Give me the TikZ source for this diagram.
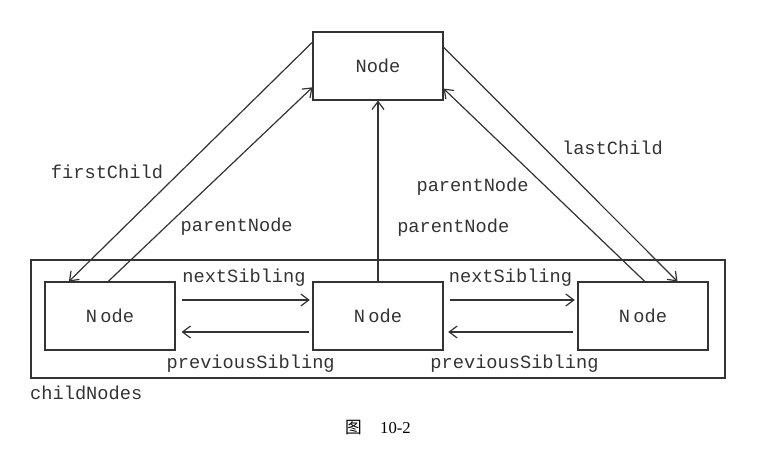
\documentclass[tikz,border=0pt]{standalone}
\usepackage{fontspec}
\setmainfont{Liberation Serif}
\setmonofont{Liberation Mono}
\newfontfamily\cjk{Noto Sans CJK SC}
\usetikzlibrary{arrows.meta}
\definecolor{ink}{HTML}{333333}
\tikzset{
  dom/.style={draw=ink,line width=0.8pt,minimum width=97.5pt,minimum height=51pt,
    font=\ttfamily\fontsize{14}{16}\selectfont,text=ink},
  link/.style={draw=ink,line width=0.9pt,-{Straight Barb[length=6pt,width=9pt]}},
  lbl/.style={inner sep=0pt,font=\ttfamily\fontsize{14}{16}\selectfont,text=ink}
}
\begin{document}
\begin{tikzpicture}[x=0.75pt,y=-0.75pt]
        \useasboundingbox (0,0) rectangle (765,455);
        %% parent node
        \node[dom] (root) at (378,66) {Node};
        %% child nodes
        \node[dom] (kid1) at (110,316) {N\kern2.5pt ode};
        \node[dom] (kid2) at (378,316) {N\kern2.5pt ode};
        \node[dom] (kid3) at (643,316) {N\kern2.5pt ode};
        \node[draw=ink,line width=1.6pt,minimum width=520.5pt,minimum height=88.5pt] (kids) at (378,319) {};
        \node[lbl,anchor=north west] (kidsname) at ([yshift=-5pt]kids.south west) {childNodes};
        %% parent and children
        \draw[link] (root.160) -- (kid1.140) node[lbl,pos=0.54,anchor=east,xshift=-13pt] (fc) {firstChild};
        \draw[link] (kid1.93) -- (root.198) node[lbl,pos=0.28,anchor=west,xshift=11pt] (pn1) {parentNode};
        \draw[link] (kid2.north) -- (root.south) node[lbl,pos=0.3,anchor=west,xshift=14pt] (pn2) {parentNode};
        \draw[link] (root.16) -- (kid3.45) node[lbl,pos=0.43,anchor=west,xshift=13pt] (lc) {lastChild};
        \draw[link] (kid3.87) -- (root.341) node[lbl,pos=0.49,anchor=east,xshift=-12.75pt] (pn3) {parentNode};
        %% siblings
        \draw[link,shorten <=4.5pt,shorten >=2pt] ([yshift=12pt]kid1.east) -- ([yshift=12pt]kid2.west)
            node[lbl,midway,yshift=17pt] (ns1) {nextSibling};
        \draw[link,shorten <=2.5pt,shorten >=4.5pt] ([yshift=-12pt]kid2.west) -- ([yshift=-12pt]kid1.east)
            node[lbl,midway,yshift=-24pt,xshift=5pt] (ps1) {previousSibling};
        \draw[link,shorten <=5pt,shorten >=2pt] ([yshift=12pt]kid2.east) -- ([yshift=12pt]kid3.west)
            node[lbl,midway,yshift=17pt] (ns2) {nextSibling};
        \draw[link,shorten <=3.5pt,shorten >=3.5pt] ([yshift=-12pt]kid3.west) -- ([yshift=-12pt]kid2.east)
            node[lbl,midway,yshift=-24pt,xshift=3pt] (ps2) {previousSibling};
        %% caption
        \node[text=black,font=\fontsize{12.5}{14}\selectfont] (cap) at (378,428) {{\cjk 图}\hspace{1.1em}10-2};
    \end{tikzpicture}
\end{document}
